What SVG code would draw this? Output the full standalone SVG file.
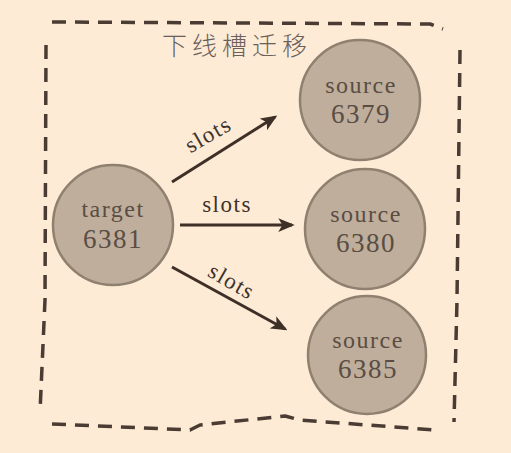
<svg xmlns="http://www.w3.org/2000/svg" width="511" height="453" viewBox="0 0 511 453">
<defs>
<style>
.bg{fill:#fdebd6}
.border{fill:none;stroke:#4a3c33;stroke-width:3.5;stroke-dasharray:14 9;stroke-linecap:butt;stroke-linejoin:round}
.node{fill:#bfae9c;stroke:#8f806f;stroke-width:2.5}
.nt{font-family:"Liberation Serif",serif;fill:#5a4d43;text-anchor:middle;letter-spacing:1.5px}
.w{font-size:24px}
.n{font-size:27px}
.lbl{font-family:"Liberation Serif",serif;fill:#3e322b;font-size:23px;letter-spacing:1.5px;text-anchor:middle}
.edge{stroke:#3e2f27;stroke-width:3;fill:none;marker-end:url(#ah)}
.title{font-family:"Noto Sans CJK SC",sans-serif;font-weight:300;fill:#6b6059;font-size:25px;letter-spacing:5px}
</style>
<marker id="ah" viewBox="0 0 12 10" refX="10" refY="5" markerWidth="5.5" markerHeight="5" orient="auto" markerUnits="strokeWidth">
<path d="M0,0 L12,5 L0,10 L3,5 Z" fill="#3e2f27"/>
</marker>
</defs>
<rect class="bg" x="0" y="0" width="511" height="453"/>
<g id="border">
<path class="border" d="M52,22 L430,24 L443,29"/>
<path class="border" d="M46,45 L45,300 L40,412"/>
<path class="border" d="M460,50 L457,300 L454,422"/>
<path class="border" d="M52,424 L190,430 L200,425 L285,416 L300,420 L435,430"/>
</g>
<text class="title" x="162" y="55">下线槽迁移</text>
<g id="connectors">
<path class="edge" d="M172,182 L275,117"/>
<path class="edge" d="M180,225 L292,225"/>
<path class="edge" d="M172,267 L285,329"/>
<text class="lbl" transform="translate(212,141) rotate(-30)">slots</text>
<text class="lbl" x="227" y="212">slots</text>
<text class="lbl" transform="translate(228,288) rotate(30)">slots</text>
</g>
<g id="target6381">
<circle class="node" cx="113" cy="225" r="60"/>
<text class="nt w" x="113" y="217">target</text>
<text class="nt n" x="113" y="248">6381</text>
</g>
<g id="source6379">
<circle class="node" cx="360" cy="100" r="60"/>
<text class="nt w" x="361" y="93">source</text>
<text class="nt n" x="361" y="123">6379</text>
</g>
<g id="source6380">
<circle class="node" cx="365" cy="229" r="60"/>
<text class="nt w" x="366" y="222">source</text>
<text class="nt n" x="366" y="252">6380</text>
</g>
<g id="source6385">
<circle class="node" cx="367" cy="355" r="59"/>
<text class="nt w" x="368" y="348">source</text>
<text class="nt n" x="368" y="378">6385</text>
</g>
</svg>
